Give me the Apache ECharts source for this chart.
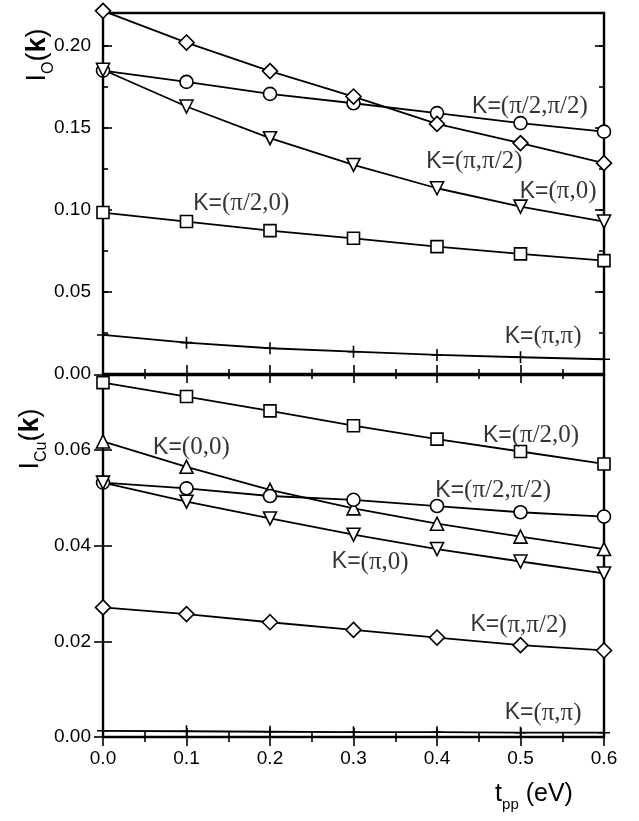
<!DOCTYPE html>
<html>
<head>
<meta charset="utf-8">
<script src="https://cdn.jsdelivr.net/npm/echarts@6/dist/echarts.min.js"></script>
<style>
html,body{margin:0;padding:0;background:#fff;}
#c{width:639px;height:821px;}
</style>
</head>
<body>
<div id="c"></div>
<script>
// ---- data ----
var tpp = [0, 0.1, 0.2, 0.3, 0.4, 0.5, 0.6];
var xTicks = [0.0, 0.1, 0.2, 0.3, 0.4, 0.5, 0.6];
var topTicks = [0.00, 0.05, 0.10, 0.15, 0.20];
var botTicks = [0.00, 0.02, 0.04, 0.06];

// I_O(k)
var oPiHalfPiHalf = [0.1849, 0.1780, 0.1707, 0.1650, 0.1590, 0.1529, 0.1477];
var oPiPiHalf     = [0.2213, 0.2020, 0.1846, 0.1691, 0.1524, 0.1407, 0.1285];
var oPi0          = [0.1854, 0.1630, 0.1437, 0.1274, 0.1132, 0.1020, 0.0929];
var oPiHalf0      = [0.0984, 0.0929, 0.0874, 0.0827, 0.0776, 0.0732, 0.0691];
var oPiPi         = [0.0238, 0.0191, 0.0157, 0.0136, 0.0116, 0.0102, 0.0090];

// I_Cu(k)
var cuPiHalf0      = [0.0741, 0.0712, 0.0682, 0.0651, 0.0623, 0.0597, 0.0571];
var cu00           = [0.0618, 0.0565, 0.0517, 0.0478, 0.0446, 0.0419, 0.0393];
var cuPiHalfPiHalf = [0.0532, 0.0520, 0.0504, 0.0496, 0.0483, 0.0470, 0.0461];
var cuPi0          = [0.0532, 0.0492, 0.0457, 0.0423, 0.0393, 0.0367, 0.0342];
var cuPiPiHalf     = [0.0271, 0.0257, 0.0240, 0.0224, 0.0208, 0.0192, 0.0181];
var cuPiPi         = [0.0013, 0.0012, 0.0011, 0.0010, 0.0010, 0.0009, 0.0009];

// curve labels: [x, y, K-vector]
var topLabels = [
  [0.442, 0.1628, '(π/2,π/2)'],
  [0.387, 0.1293, '(π,π/2)'],
  [0.499, 0.1110, '(π,0)'],
  [0.108, 0.1037, '(π/2,0)'],
  [0.481, 0.0226, '(π,π)']
];
var botLabels = [
  [0.455, 0.0631, '(π/2,0)'],
  [0.060, 0.0606, '(0,0)'],
  [0.398, 0.0516, '(π/2,π/2)'],
  [0.274, 0.0366, '(π,0)'],
  [0.440, 0.0234, '(π,π/2)'],
  [0.481, 0.0050, '(π,π)']
];

// ---- chart ----
var SANS = 'Liberation Sans';
var SERIF = 'Liberation Serif';
var chart = echarts.init(document.getElementById('c'), null, {renderer: 'canvas'});

function pairs(ys) { return tpp.map(function (x, i) { return [x, ys[i]]; }); }

var plusPath = 'path://M0,5L10,5M5,0L5,10';

function curve(name, ys, xi, yi, symbol, rotate) {
  return {
    type: 'line', name: name, xAxisIndex: xi, yAxisIndex: yi,
    data: pairs(ys), clip: false, showAllSymbol: true,
    symbol: symbol, symbolSize: symbol === plusPath ? 12 : (symbol === 'rect' ? 12 : (symbol === 'diamond' ? 15 : 13)),
    symbolRotate: rotate || 0,
    lineStyle: {color: '#000', width: 1.8},
    itemStyle: {color: symbol === plusPath ? 'none' : '#fff', borderColor: '#000', borderWidth: 1.6},
    z: 3, animation: false, silent: true
  };
}

function labelSeries(list, xi, yi) {
  return {
    type: 'scatter', xAxisIndex: xi, yAxisIndex: yi, clip: false,
    symbolSize: 0, data: list, z: 5, silent: true, animation: false,
    label: {
      show: true, position: 'inside', align: 'left', verticalAlign: 'middle',
      formatter: function (p) { return '{a|K=}{b|' + p.data[2] + '}'; },
      rich: {
        a: {fontFamily: SANS, fontSize: 23, color: '#000'},
        b: {fontFamily: SERIF, fontSize: 25, color: '#000'}
      }
    }
  };
}

function xAxis(grid, pos, labels) {
  return {
    type: 'value', gridIndex: grid, position: pos, min: 0, max: 0.6, interval: 0.1,
    axisLine: {show: false},
    axisTick: {show: true, inside: true, length: 9, lineStyle: {color: '#000', width: 1.6}},
    minorTick: {show: true, splitNumber: 2, length: 5, lineStyle: {color: '#000', width: 1.6}},
    splitLine: {show: false}, minorSplitLine: {show: false},
    axisLabel: {show: labels, margin: 12, fontFamily: SANS, fontSize: 19, color: '#000',
      formatter: function (v) { return v.toFixed(1); }}
  };
}

function yAxis(grid, pos, max, interval, labels, tickLen) {
  return {
    type: 'value', gridIndex: grid, position: pos, min: 0, max: max, interval: interval,
    axisLine: {show: false},
    axisTick: {show: true, inside: true, length: tickLen, lineStyle: {color: '#000', width: 1.6}},
    splitLine: {show: false},
    axisLabel: {show: labels, margin: 12, showMaxLabel: false, fontFamily: SANS, fontSize: 19, color: '#000',
      formatter: function (v) { return v.toFixed(2); }}
  };
}

var option = {
  backgroundColor: '#fff',
  animation: false,
  grid: [
    {left: 103, top: 13, width: 501, height: 361, show: true, borderColor: '#000', borderWidth: 2.4, backgroundColor: 'transparent'},
    {left: 103, top: 375, width: 501, height: 362, show: true, borderColor: '#000', borderWidth: 2.4, backgroundColor: 'transparent'}
  ],
  xAxis: [
    xAxis(0, 'bottom', false),
    xAxis(0, 'top', false),
    xAxis(1, 'bottom', true),
    xAxis(1, 'top', false)
  ],
  yAxis: [
    yAxis(0, 'left', 0.22, 0.05, true, 9),
    yAxis(0, 'left', 0.22, 0.025, false, 5),
    yAxis(0, 'right', 0.22, 0.05, false, 9),
    yAxis(0, 'right', 0.22, 0.025, false, 5),
    yAxis(1, 'left', 0.0757, 0.02, true, 9),
    yAxis(1, 'right', 0.0757, 0.02, false, 9)
  ],
  series: [
    curve('O (pi/2,pi/2)', oPiHalfPiHalf, 0, 0, 'circle'),
    curve('O (pi,pi/2)', oPiPiHalf, 0, 0, 'diamond'),
    curve('O (pi,0)', oPi0, 0, 0, 'triangle', 180),
    curve('O (pi/2,0)', oPiHalf0, 0, 0, 'rect'),
    curve('O (pi,pi)', oPiPi, 0, 0, plusPath),
    curve('Cu (pi/2,0)', cuPiHalf0, 2, 4, 'rect'),
    curve('Cu (0,0)', cu00, 2, 4, 'triangle'),
    curve('Cu (pi/2,pi/2)', cuPiHalfPiHalf, 2, 4, 'circle'),
    curve('Cu (pi,0)', cuPi0, 2, 4, 'triangle', 180),
    curve('Cu (pi,pi/2)', cuPiPiHalf, 2, 4, 'diamond'),
    curve('Cu (pi,pi)', cuPiPi, 2, 4, plusPath),
    labelSeries(topLabels, 0, 0),
    labelSeries(botLabels, 2, 4)
  ],
  graphic: [
    {
      type: 'text', x: 38, y: 55, rotation: Math.PI / 2, silent: true,
      style: {
        text: '{m|I}{s|O}{m|(}{k|k}{m|)}', align: 'center', verticalAlign: 'middle', fill: '#000',
        rich: {
          m: {fontFamily: SANS, fontSize: 27, lineHeight: 38, fill: '#000'},
          k: {fontFamily: SANS, fontSize: 27, fontWeight: 'bold', lineHeight: 38, fill: '#000'},
          s: {fontFamily: SANS, fontSize: 16, verticalAlign: 'bottom', fill: '#000'}
        }
      }
    },
    {
      type: 'text', x: 31, y: 439, rotation: Math.PI / 2, silent: true,
      style: {
        text: '{m|I}{s|Cu}{m|(}{k|k}{m|)}', align: 'center', verticalAlign: 'middle', fill: '#000',
        rich: {
          m: {fontFamily: SANS, fontSize: 27, lineHeight: 38, fill: '#000'},
          k: {fontFamily: SANS, fontSize: 27, fontWeight: 'bold', lineHeight: 38, fill: '#000'},
          s: {fontFamily: SANS, fontSize: 16, verticalAlign: 'bottom', fill: '#000'}
        }
      }
    },
    {
      type: 'text', x: 534, y: 794, silent: true,
      style: {
        text: '{m|t}{s|pp}{m| (eV)}', align: 'center', verticalAlign: 'middle', fill: '#000',
        rich: {
          m: {fontFamily: SANS, fontSize: 25, lineHeight: 36, fill: '#000'},
          s: {fontFamily: SANS, fontSize: 15, verticalAlign: 'bottom', fill: '#000'}
        }
      }
    }
  ]
};
chart.setOption(option);
</script>
</body>
</html>
